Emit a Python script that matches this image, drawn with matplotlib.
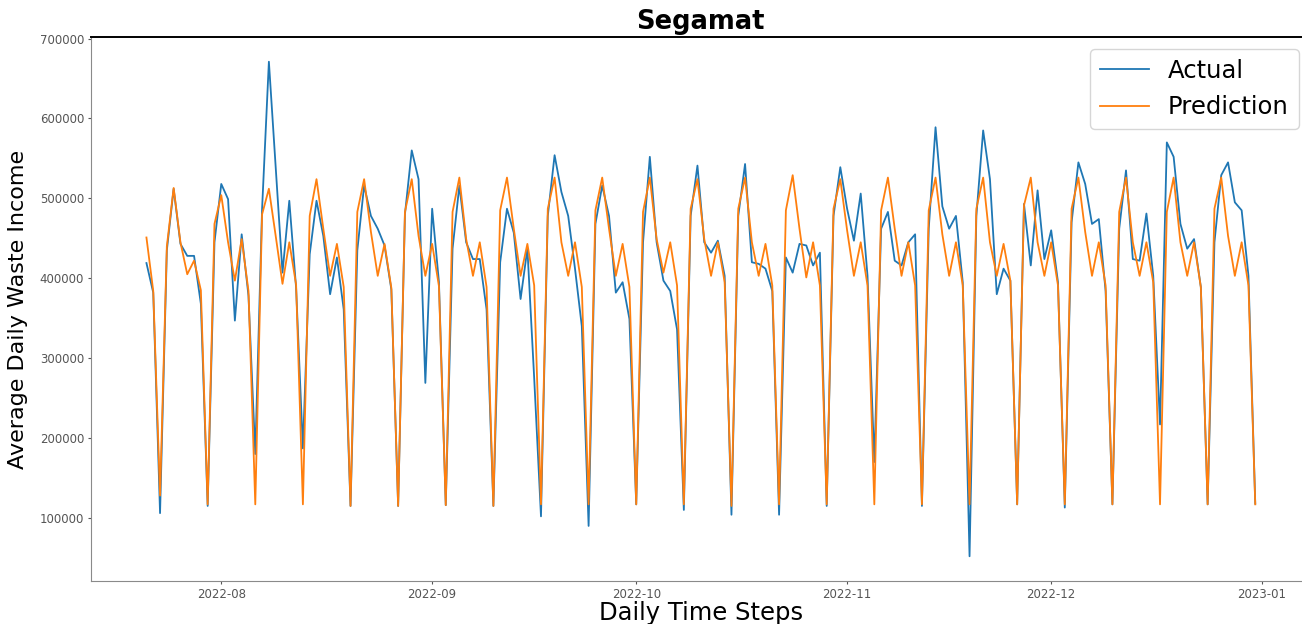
import numpy as np
import pandas as pd
import matplotlib
matplotlib.use("Agg")
import matplotlib.pyplot as plt

# daily series, Segamat
start_date = "2022-07-21"
n_days = 164

actual = [419000, 382000, 106000, 435000, 512000, 443000, 428000, 428000, 368000, 115000,
          445000, 518000, 499000, 347000, 455000, 378000, 180000, 487000, 671000, 540000,
          407000, 497000, 388000, 187000, 430000, 497000, 453000, 380000, 426000, 361000,
          115000, 435000, 516000, 478000, 462000, 441000, 386000, 115000, 480000, 560000,
          524000, 269000, 487000, 395000, 116000, 437000, 516000, 445000, 424000, 424000,
          361000, 115000, 420000, 487000, 457000, 374000, 437000, 275000, 102000, 478000,
          554000, 508000, 478000, 412000, 340000, 90000, 468000, 516000, 478000, 382000,
          395000, 349000, 117000, 445000, 552000, 445000, 397000, 384000, 336000, 110000,
          478000, 541000, 445000, 432000, 447000, 403000, 104000, 478000, 543000, 420000,
          418000, 412000, 384000, 104000, 426000, 407000, 443000, 441000, 416000, 432000,
          115000, 478000, 539000, 487000, 447000, 506000, 403000, 170000, 462000, 483000,
          422000, 416000, 445000, 455000, 115000, 462000, 589000, 490000, 462000, 478000,
          395000, 52000, 478000, 585000, 524000, 380000, 412000, 397000, 117000, 493000,
          416000, 510000, 424000, 460000, 395000, 113000, 470000, 545000, 518000, 468000,
          474000, 384000, 117000, 462000, 535000, 424000, 422000, 481000, 403000, 217000,
          570000, 552000, 468000, 437000, 449000, 389000, 117000, 445000, 529000, 545000,
          495000, 485000, 403000, 118000]

prediction = [451000, 384000, 128000, 440000, 513000, 445000, 405000, 422000, 385000, 117000,
              468000, 504000, 445000, 397000, 449000, 384000, 117000, 480000, 512000, 453000,
              393000, 445000, 392000, 117000, 478000, 524000, 462000, 403000, 443000, 389000,
              115000, 483000, 524000, 458000, 403000, 443000, 388000, 115000, 483000, 524000,
              453000, 403000, 443000, 390000, 116000, 483000, 526000, 449000, 403000, 445000,
              389000, 115000, 485000, 526000, 462000, 403000, 443000, 391000, 117000, 487000,
              526000, 445000, 403000, 445000, 389000, 117000, 485000, 526000, 462000, 403000,
              443000, 389000, 117000, 483000, 526000, 449000, 407000, 445000, 391000, 117000,
              487000, 524000, 449000, 403000, 445000, 395000, 115000, 487000, 526000, 445000,
              403000, 443000, 391000, 117000, 485000, 529000, 462000, 401000, 445000, 391000,
              117000, 487000, 524000, 460000, 403000, 445000, 391000, 117000, 485000, 526000,
              462000, 403000, 445000, 391000, 117000, 485000, 526000, 455000, 403000, 445000,
              391000, 117000, 487000, 526000, 445000, 403000, 443000, 397000, 117000, 491000,
              526000, 445000, 403000, 445000, 391000, 117000, 487000, 526000, 458000, 403000,
              445000, 391000, 117000, 483000, 526000, 445000, 403000, 445000, 395000, 117000,
              483000, 526000, 445000, 403000, 445000, 389000, 117000, 487000, 526000, 453000,
              403000, 445000, 391000, 117000]

dates = pd.date_range(start_date, periods=n_days, freq="D")

W, H = 1302, 624
fig = plt.figure(figsize=(W / 100, H / 100), dpi=100)
# axes runs a little past the right edge of the figure
ax = fig.add_axes([91 / W, (H - 581) / H, 1219.7 / W, 544 / H])

ax.plot(dates, actual, color="#1f77b4", lw=1.3, label="Actual")
ax.plot(dates, prediction, color="#ff7f0e", lw=1.3, label="Prediction")

ax.set_title("Segamat", fontsize=18.5, fontweight="bold", pad=6)
ax.set_xlabel("Daily Time Steps", fontsize=17.5)
ax.set_ylabel("Average Daily Waste Income", fontsize=16)
ax.xaxis.set_label_coords(0.5, -0.037)
ax.yaxis.set_label_coords(-0.052, 0.5)

ax.tick_params(axis="both", labelsize=8.5, length=2.5, pad=2.5, colors="#555555")
for side in ["left", "bottom"]:
    ax.spines[side].set_color("#8a8a8a")
ax.spines["top"].set_color("black")
ax.spines["top"].set_linewidth(1.4)

ax.legend(loc="upper right", fontsize=17.5)

fig.savefig("out.png", dpi=100)
